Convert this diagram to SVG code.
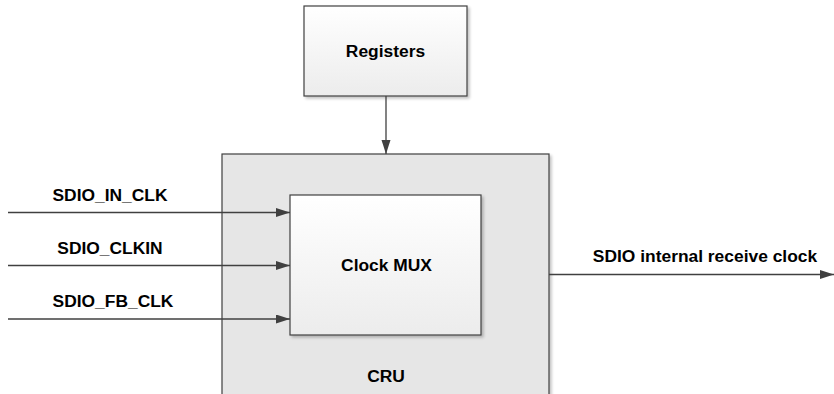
<svg xmlns="http://www.w3.org/2000/svg" width="834" height="394" viewBox="0 0 834 394">
<style>
.box{stroke:#404040;stroke-width:1.2}
.lbl{font-family:"Liberation Sans",Arial,sans-serif;font-weight:bold;font-size:17.4px;fill:#000}
.wire{stroke:#404040;stroke-width:1.3;fill:none}
</style>
<defs>
<linearGradient id="gw" x1="0" y1="0" x2="0" y2="1">
<stop offset="0" stop-color="#ffffff"/>
<stop offset="1" stop-color="#ececec"/>
</linearGradient>
<filter id="sh" x="-10%" y="-10%" width="130%" height="130%">
<feGaussianBlur in="SourceAlpha" stdDeviation="1.5"/>
<feOffset dx="2" dy="2" result="b"/>
<feComponentTransfer><feFuncA type="linear" slope="0.25"/></feComponentTransfer>
<feMerge><feMergeNode/><feMergeNode in="SourceGraphic"/></feMerge>
</filter>
<marker id="ah" markerUnits="userSpaceOnUse" markerWidth="15" markerHeight="10" refX="14" refY="4.5" orient="auto">
<path d="M0,0 L14,4.5 L0,9 Z" fill="#404040"/>
</marker>
</defs>
<g id="registers">
<rect class="box" x="304" y="6" width="163" height="90" fill="url(#gw)" filter="url(#sh)"/>
<text class="lbl" x="385.5" y="57" text-anchor="middle">Registers</text>
</g>
<g id="cru">
<rect class="box" x="222" y="154" width="327" height="250" fill="#e6e6e6" filter="url(#sh)"/>
<text class="lbl" x="386" y="382" text-anchor="middle">CRU</text>
</g>
<g id="clockmux">
<rect class="box" x="290" y="195" width="191" height="140" fill="url(#gw)" filter="url(#sh)"/>
<text class="lbl" x="386.5" y="271" text-anchor="middle">Clock MUX</text>
</g>
<g id="connectors">
<line class="wire" x1="386" y1="96" x2="386" y2="154" marker-end="url(#ah)"/>
<line class="wire" x1="8" y1="212.5" x2="290" y2="212.5" marker-end="url(#ah)"/>
<line class="wire" x1="8" y1="265.5" x2="290" y2="265.5" marker-end="url(#ah)"/>
<line class="wire" x1="8" y1="319" x2="290" y2="319" marker-end="url(#ah)"/>
<line class="wire" x1="549" y1="274.5" x2="834" y2="274.5" marker-end="url(#ah)"/>
</g>
<g id="labels">
<text class="lbl" x="110" y="201" text-anchor="middle">SDIO_IN_CLK</text>
<text class="lbl" x="110" y="254" text-anchor="middle">SDIO_CLKIN</text>
<text class="lbl" x="113" y="307" text-anchor="middle">SDIO_FB_CLK</text>
<text class="lbl" x="705" y="262" text-anchor="middle">SDIO internal receive clock</text>
</g>
</svg>
